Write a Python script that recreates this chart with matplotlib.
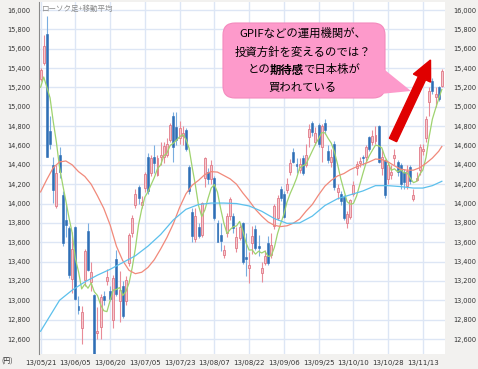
import matplotlib
matplotlib.use('Agg')
import matplotlib.pyplot as plt
from matplotlib.patches import FancyBboxPatch, Polygon, FancyArrow
import numpy as np

# daily candles, 13/05/21 .. 13/11/21 (trading days)
opens = [15290, 15450, 15750, 14750, 14400, 13970, 14500, 14090, 13830, 13750,
         13220, 13760, 12940, 12710, 13210, 13720, 13190, 13050, 12660, 12720,
         13040, 13200, 13100, 12800, 13430, 12990, 13150, 12990, 13390, 13700,
         13990, 14170, 13980, 14160, 14480, 14320, 14480, 14300, 14480, 14480,
         14500, 14660, 14900, 14790, 14680, 14700, 14760, 14380, 13910, 13630,
         13760, 13680, 14260, 14330, 14250, 14260, 13800, 13680, 13470, 13700,
         13870, 13870, 13540, 13640, 13800, 13450, 13330, 13590, 13740, 13560,
         13280, 13390, 13590, 13470, 13765, 13850, 14150, 14100, 14140, 14330,
         14530, 14410, 14350, 14470, 14400, 14690, 14830, 14640, 14810, 14580,
         14830, 14540, 14430, 14620, 14120, 14100, 14070, 13800, 13860, 14100,
         14370, 14420, 14480, 14480, 14690, 14640, 14650, 14800, 14370, 14450,
         14250, 14290, 14470, 14430, 14400, 14330, 14180, 14380, 14050, 14240,
         14350, 14540, 14680, 15050, 15270, 15100, 15200, 15210]
highs = [15400, 15740, 15942, 14900, 14485, 14400, 14580, 14130, 14000, 13770,
         13711, 13770, 13040, 12940, 13530, 13800, 13400, 13060, 12930, 13060,
         13100, 13320, 13150, 13260, 13520, 13300, 13200, 13250, 13700, 13880,
         14150, 14190, 14080, 14330, 14520, 14500, 14600, 14500, 14640, 14640,
         14680, 14830, 14950, 14950, 14850, 14800, 14780, 14400, 13950, 13950,
         13800, 14020, 14480, 14370, 14450, 14280, 13830, 13800, 13570, 13900,
         14070, 13900, 13760, 13800, 13810, 13700, 13500, 13770, 13780, 13680,
         13400, 13520, 13660, 13700, 14000, 14090, 14180, 14130, 14260, 14460,
         14570, 14470, 14470, 14500, 14620, 14820, 14850, 14790, 14830, 14820,
         14870, 14600, 14560, 14650, 14200, 14130, 14090, 13920, 14050, 14230,
         14440, 14480, 14500, 14600, 14700, 14760, 14800, 14810, 14560, 14460,
         14420, 14400, 14560, 14450, 14420, 14360, 14400, 14400, 14150, 14330,
         14620, 14620, 14900, 15200, 15300, 15200, 15220, 15390]
lows = [15270, 15430, 14483, 14560, 14006, 13950, 14260, 13560, 13650, 13230,
        13080, 13000, 12860, 12548, 13150, 13300, 13100, 12415, 12600, 12600,
        12950, 13160, 12990, 12715, 13040, 12780, 12820, 12950, 13350, 13650,
        13950, 14000, 13950, 14120, 14100, 14280, 14320, 14280, 14400, 14420,
        14480, 14640, 14430, 14600, 14620, 14600, 14540, 14100, 13600, 13600,
        13640, 13650, 14170, 14200, 14200, 13830, 13600, 13510, 13440, 13650,
        13830, 13700, 13500, 13620, 13380, 13250, 13180, 13480, 13520, 13460,
        13190, 13370, 13370, 13440, 13740, 13830, 14030, 13850, 14110, 14300,
        14420, 14320, 14320, 14300, 14380, 14580, 14700, 14600, 14580, 14430,
        14720, 14420, 14380, 14140, 14050, 13980, 13830, 13750, 13840, 14080,
        14300, 14380, 14400, 14440, 14540, 14600, 14620, 14420, 14300, 14060,
        14200, 14250, 14400, 14280, 14150, 14150, 14150, 14200, 14030, 14230,
        14300, 14500, 14640, 14900, 15130, 15000, 15060, 15200]
closes = [15380, 15627, 14483, 14612, 14142, 14311, 14326, 13589, 13774, 13261,
          13533, 13014, 12904, 12877, 13514, 13317, 13289, 12445, 12686, 13033,
          13007, 13245, 13014, 13230, 13062, 13110, 12834, 13213, 13677, 13852,
          14098, 14055, 14018, 14309, 14130, 14472, 14416, 14472, 14506, 14599,
          14615, 14808, 14589, 14658, 14778, 14731, 14562, 14129, 13661, 13869,
          13668, 14005, 14466, 14258, 14401, 13850, 13605, 13615, 13519, 13867,
          14050, 13752, 13650, 13758, 13396, 13424, 13365, 13660, 13542, 13542,
          13338, 13459, 13388, 13572, 13978, 14053, 14060, 13860, 14205, 14423,
          14425, 14387, 14404, 14311, 14505, 14766, 14742, 14734, 14620, 14799,
          14760, 14455, 14484, 14170, 14157, 14024, 13853, 13894, 14037, 14194,
          14404, 14441, 14467, 14586, 14561, 14693, 14713, 14426, 14486, 14088,
          14396, 14325, 14502, 14327, 14201, 14226, 14337, 14228, 14086, 14269,
          14589, 14567, 14876, 15165, 15164, 15127, 15076, 15365]

# moving averages
ma5 = [15202, 15308, 15198, 15092, 14849, 14635, 14375, 14196, 14028, 13852,
       13697, 13434, 13297, 13118, 13168, 13125, 13180, 13088, 13050, 12954,
       12892, 12883, 12997, 13106, 13112, 13132, 13050, 13090, 13179, 13337,
       13535, 13779, 13940, 14066, 14122, 14197, 14269, 14360, 14399, 14493,
       14522, 14600, 14623, 14654, 14690, 14713, 14664, 14572, 14372, 14190,
       13978, 13866, 13934, 14053, 14160, 14196, 14116, 13946, 13798, 13691,
       13731, 13761, 13768, 13815, 13721, 13596, 13519, 13521, 13477, 13507,
       13489, 13508, 13454, 13460, 13547, 13690, 13794, 13888, 14015, 14104,
       14178, 14260, 14369, 14390, 14406, 14475, 14546, 14612, 14673, 14732,
       14731, 14674, 14624, 14534, 14405, 14258, 14138, 14020, 13993, 14000,
       14076, 14194, 14309, 14418, 14492, 14550, 14604, 14596, 14576, 14481,
       14422, 14344, 14359, 14328, 14350, 14316, 14319, 14264, 14216, 14229,
       14302, 14348, 14477, 14693, 14872, 14980, 15082, 15179]
ma25_idx = [0, 2, 4, 6, 8, 10, 12, 14, 16, 18, 20, 22, 24, 26, 28, 30, 32, 34,
            36, 38, 40, 42, 44, 46, 48, 50, 52, 54, 56, 58, 60, 62, 64, 66, 68,
            70, 72, 74, 76, 78, 80, 82, 84, 86, 88, 90, 92, 94, 96, 98, 100,
            102, 104, 106, 108, 110, 112, 114, 116, 118, 120, 122, 124, 126, 127]
ma25 = [14120, 14250, 14370, 14430, 14440, 14400, 14330, 14280, 14200, 14080,
        13950, 13780, 13560, 13410, 13310, 13275, 13290, 13340, 13420, 13530,
        13650, 13790, 13960, 14100, 14190, 14240, 14300, 14330, 14325, 14290,
        14255, 14200, 14110, 14030, 13940, 13870, 13810, 13775, 13762, 13770,
        13797, 13840, 13920, 13990, 14090, 14180, 14240, 14285, 14310, 14350,
        14380, 14405, 14430, 14460, 14455, 14430, 14390, 14355, 14345, 14345,
        14370, 14416, 14470, 14540, 14590]
ma75_idx = [0, 3, 6, 10, 14, 18, 22, 26, 30, 34, 38, 42, 46, 50, 54, 58, 62,
            66, 70, 74, 78, 82, 86, 90, 94, 98, 102, 106, 110, 114, 118, 121,
            124, 127]
ma75 = [12680, 12840, 13000, 13105, 13190, 13260, 13320, 13390, 13460, 13560,
        13680, 13830, 13940, 13990, 14005, 14005, 14000, 13975, 13920, 13845,
        13795, 13800, 13870, 13980, 14050, 14090, 14130, 14185, 14185, 14175,
        14160, 14160, 14185, 14230]

tick_idx = [0, 11, 22, 33, 44, 55, 66, 77, 88, 99, 110, 121]
tick_labels = ['13/05/21', '13/06/05', '13/06/20', '13/07/05', '13/07/23',
               '13/08/07', '13/08/22', '13/09/06', '13/09/25', '13/10/10',
               '13/10/28', '13/11/13']
ytick_vals = list(range(12600, 16001, 200))

W, H = 478, 369
JP = ['Noto Sans CJK JP', 'DejaVu Sans']


def fx(px):
    return px / W


def fy(py):
    return 1 - py / H


fig = plt.figure(figsize=(W / 100, H / 100), dpi=100, facecolor='#f2f1ef')
ax = fig.add_axes([fx(39), fy(354), (445 - 39) / W, (354 - 2) / H])
ax.set_facecolor('white')

x = np.arange(len(closes))
o = np.array(opens)
h = np.array(highs)
l = np.array(lows)
c = np.array(closes)
up = c >= o
body_low = np.minimum(o, c)
body_h = np.maximum(np.abs(c - o), 12)

ax.vlines(x[up], l[up], h[up], color='#e98c98', lw=0.8, zorder=2)
ax.vlines(x[~up], l[~up], h[~up], color='#7aaee0', lw=0.8, zorder=2)
ax.bar(x[up], body_h[up], bottom=body_low[up], width=0.62, color='#f6c7cd',
       edgecolor='#e07a88', lw=0.6, zorder=3)
ax.bar(x[~up], body_h[~up], bottom=body_low[~up], width=0.62, color='#2f6fb6',
       edgecolor='#2f6fb6', lw=0.4, zorder=3)

ax.plot(x, ma5, color='#9fd36f', lw=0.9, zorder=4)
ax.plot(ma25_idx, ma25, color='#f1897a', lw=0.9, zorder=4)
ax.plot(ma75_idx, ma75, color='#5cc0ec', lw=0.9, zorder=4)

ax.set_xlim(-0.5, 128)
ax.set_ylim(12445, 16083)
ax.set_yticks(ytick_vals)
ax.set_yticklabels([f'{v:,}' for v in ytick_vals])
ax.tick_params(axis='y', left=True, right=True, labelleft=True, labelright=True,
               length=0, pad=6, labelsize=4.8, labelcolor='#333333')
ax.set_xticks(tick_idx)
ax.set_xticklabels(tick_labels)
ax.tick_params(axis='x', length=0, pad=4, labelsize=5, labelcolor='#333333')
ax.grid(True, color='#dde6f5', lw=1.0)
ax.set_axisbelow(True)
for s in ['top', 'right', 'bottom']:
    ax.spines[s].set_visible(False)
ax.spines['left'].set_color('#8a8a8a')

fig.text(fx(42), fy(8.5), 'ローソク足+移動平均', fontsize=5.4, color='#8a8a8a',
         family=JP, va='center', ha='left')
fig.text(fx(7.5), fy(362), '(円)', fontsize=5, color='#333333', family=JP,
         va='center', ha='center')

# callout
ins = fig.dpi_scale_trans
box = FancyBboxPatch((2.23, (H - 98) / 100), 1.62, 0.75,
                     boxstyle='round,pad=0,rounding_size=0.12',
                     transform=ins, facecolor='#fd9acb', edgecolor='#f48abd',
                     lw=0.8, zorder=5)
fig.patches.append(box)
tail = Polygon([(3.80, (H - 66) / 100), (4.11, (H - 91) / 100),
                (3.80, (H - 94) / 100)], closed=True, transform=ins,
               facecolor='#fd9acb', edgecolor='none', zorder=6)
fig.patches.append(tail)

cx = 303
fig.text(fx(cx), fy(33), 'GPIFなどの運用機関が、', fontsize=8.2, family=JP,
         ha='center', va='center', zorder=7)
fig.text(fx(cx), fy(52.5), '投資方針を変えるのでは？', fontsize=8.2, family=JP,
         ha='center', va='center', zorder=7)
parts = [('との', 'normal'), ('期待感', 'bold'), ('で日本株が', 'normal')]
renderer = fig.canvas.get_renderer()
objs = []
for s, wgt in parts:
    t = fig.text(0, fy(70), s, fontsize=8.2, family=JP, weight=wgt,
                 ha='left', va='center', zorder=7)
    objs.append(t)
widths = [t.get_window_extent(renderer).width - 0.8 for t in objs]
start = cx - sum(widths) / 2
for t, wd in zip(objs, widths):
    t.set_x(fx(start))
    start += wd
fig.text(fx(cx), fy(87.5), '買われている', fontsize=8.2, family=JP,
         ha='center', va='center', zorder=7)

arrow = FancyArrow(3.93, (H - 140) / 100, 0.375, 0.80, width=0.08,
                   head_width=0.19, head_length=0.2, length_includes_head=True,
                   transform=ins, color='#e00000', zorder=8)
fig.patches.append(arrow)

fig.savefig('out.png', dpi=100, facecolor=fig.get_facecolor())
